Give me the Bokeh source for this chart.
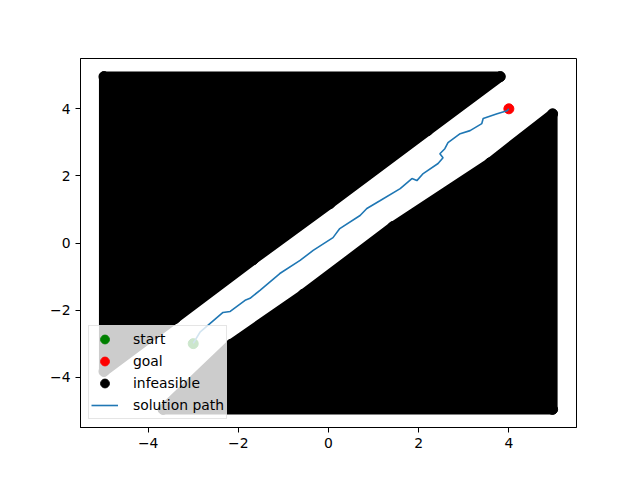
from bokeh.plotting import figure
from bokeh.models import Range1d, FixedTicker, CustomJSTickFormatter, Legend, LegendItem
from bokeh.embed import file_html
from bokeh.resources import INLINE

# start / goal
start_x = [-3.0]
start_y = [-3.0]
goal_x = [4.0]
goal_y = [4.0]

# infeasible regions (sample points on their outline)
upper_x = [-4.98, 3.81, 2.20, 0.03, -1.67, -3.40, -4.98]
upper_y = [4.96, 4.96, 3.35, 1.17, -0.50, -2.25, -3.83]
lower_x = [4.97, 4.97, 3.58, 1.43, -0.56, -2.16, -3.67]
lower_y = [-4.96, 3.85, 2.39, 0.49, -1.53, -3.02, -4.96]

# solution path
path_x = [-3.00, -2.85, -2.34, -2.18, -1.85, -1.74, -1.52, -1.08, -0.63, -0.34, 0.10,
          0.25, 0.70, 0.85, 1.14, 1.59, 1.85, 1.96, 2.10, 2.43, 2.54, 2.47, 2.58, 2.65,
          2.92, 3.14, 3.40, 3.43, 3.74, 3.96, 4.00]
path_y = [-2.99, -2.66, -2.07, -2.04, -1.71, -1.65, -1.41, -0.91, -0.52, -0.22, 0.16,
          0.43, 0.82, 1.03, 1.26, 1.62, 1.92, 1.86, 2.07, 2.37, 2.54, 2.66, 2.81, 2.99,
          3.26, 3.35, 3.56, 3.71, 3.85, 3.94, 4.00]

ticks = [-4, -2, 0, 2, 4]

p = figure(width=632, height=472, output_backend="svg", toolbar_location=None,
           x_range=Range1d(-5.5, 5.5), y_range=Range1d(-5.5, 5.5),
           min_border_left=80, min_border_right=56, min_border_top=58, min_border_bottom=45)
p.xgrid.visible = False
p.ygrid.visible = False
p.outline_line_color = "black"
p.outline_line_alpha = 1
p.outline_line_width = 1

fmt = CustomJSTickFormatter(code="return tick < 0 ? '\u2212' + Math.abs(tick) : tick.toString();")
for ax in (p.xaxis[0], p.yaxis[0]):
    ax.ticker = FixedTicker(ticks=ticks)
    ax.formatter = fmt
    ax.major_tick_out = 5
    ax.major_tick_in = 0
    ax.minor_tick_line_color = None
    ax.axis_line_color = "black"
    ax.major_tick_line_color = "black"
    ax.major_label_text_font = "DejaVu Sans"
    ax.major_label_text_font_size = "13.9px"
    ax.major_label_text_color = "black"
    ax.major_label_standoff = 5

# infeasible areas
p.patch(upper_x, upper_y, fill_color="black", line_color="black", line_width=10, line_join="round")
p.patch(lower_x, lower_y, fill_color="black", line_color="black", line_width=10, line_join="round")

r_start = p.scatter(start_x, start_y, size=10, fill_color="green", line_color="green")
r_goal = p.scatter(goal_x, goal_y, size=10, fill_color="red", line_color="red")
r_inf = p.scatter(upper_x + lower_x, upper_y + lower_y, size=10, fill_color="black", line_color="black")
r_path = p.line(path_x, path_y, line_color="#1f77b4", line_width=1.6)

legend = Legend(items=[
    LegendItem(label="start", renderers=[r_start]),
    LegendItem(label="goal", renderers=[r_goal]),
    LegendItem(label="infeasible", renderers=[r_inf]),
    LegendItem(label="solution path", renderers=[r_path]),
], location="bottom_left")
legend.margin = 8
legend.padding = 2
legend.spacing = -1
legend.label_height = 22
legend.glyph_height = 22
legend.glyph_width = 27
legend.label_standoff = 15
legend.label_text_font = "DejaVu Sans"
legend.label_text_font_size = "13.9px"
legend.label_text_color = "black"
legend.background_fill_alpha = 0.8
legend.border_line_color = "#cccccc"
legend.border_line_width = 1
p.add_layout(legend)

open("out.html", "w").write(file_html(p, INLINE))
